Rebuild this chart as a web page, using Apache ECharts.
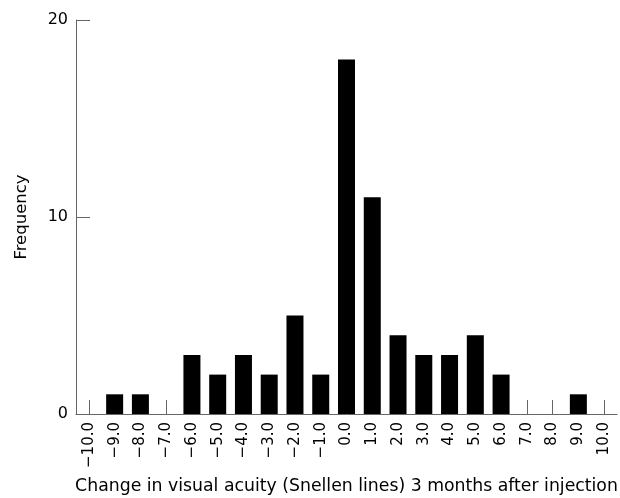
<!DOCTYPE html>
<html><head><meta charset="utf-8">
<script src="https://cdn.jsdelivr.net/npm/echarts@6/dist/echarts.min.js"></script>
<style>html,body{margin:0;padding:0;background:#fff}#c{width:620px;height:498px}</style>
</head><body><div id="c"></div>
<script>
var categories = ["\u221210.0","\u22129.0","\u22128.0","\u22127.0","\u22126.0","\u22125.0","\u22124.0","\u22123.0","\u22122.0","\u22121.0","0.0","1.0","2.0","3.0","4.0","5.0","6.0","7.0","8.0","9.0","10.0"];
var frequency = [0,1,1,0,3,2,3,2,5,2,18,11,4,3,3,4,2,0,0,1,0];
var yTicks = [0,10,20];
var FONT = "DejaVu Sans";
var chart = echarts.init(document.getElementById('c'));
chart.setOption({
  animation:false,
  grid:{left:76,right:3,top:20,bottom:84,containLabel:false,outerBoundsMode:'none'},
  xAxis:{type:'category',data:categories,
    name:'Change in visual acuity (Snellen lines) 3 months after injection',
    nameLocation:'middle',nameGap:64,
    nameTextStyle:{color:'#000',fontSize:17.3,fontFamily:FONT},
    axisLine:{lineStyle:{color:'#666',width:1}},
    axisTick:{show:true,inside:true,alignWithLabel:true,length:14,lineStyle:{color:'#666'}},
    axisLabel:{rotate:90,color:'#000',fontSize:15,fontFamily:FONT,margin:8,interval:0}},
  yAxis:{type:'value',min:yTicks[0],max:yTicks[yTicks.length-1],interval:10,
    name:'Frequency',nameLocation:'middle',nameGap:46,
    nameTextStyle:{color:'#000',fontSize:16.5,fontFamily:FONT},
    axisLine:{show:true,lineStyle:{color:'#666',width:1}},
    axisTick:{show:true,inside:true,length:14,lineStyle:{color:'#666'}},
    splitLine:{show:false},
    axisLabel:{color:'#000',fontSize:16,fontFamily:FONT,margin:8}},
  series:[{type:'bar',data:frequency,barWidth:17,itemStyle:{color:'#000'}}]
});
</script></body></html>
